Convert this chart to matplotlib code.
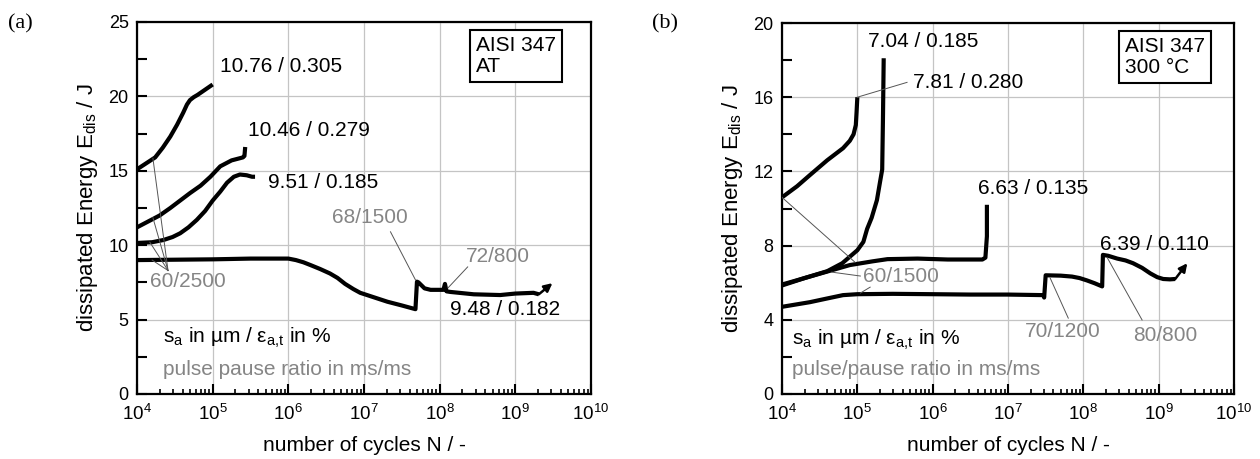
import numpy as np
import matplotlib
matplotlib.use("Agg")
import matplotlib.pyplot as plt
from matplotlib.ticker import LogLocator, MultipleLocator, LogFormatterMathtext, NullFormatter

plt.rcParams['font.family'] = ['Liberation Sans', 'DejaVu Sans']
plt.rcParams['mathtext.fontset'] = 'custom'
plt.rcParams['mathtext.rm'] = 'Liberation Sans'
plt.rcParams['mathtext.it'] = 'Liberation Sans:italic'
plt.rcParams['mathtext.bf'] = 'Liberation Sans:bold'

GRAY = '#858585'
LEAD = '#555555'

# ---------------- panel (a) data: AISI 347 AT ----------------
a1_logN = [4.0, 4.12, 4.24, 4.34, 4.44, 4.53, 4.61, 4.66, 4.70, 4.75, 4.80, 4.90, 5.0]
a1_E = [15.1, 15.5, 15.9, 16.55, 17.3, 18.1, 18.9, 19.45, 19.75, 19.95, 20.1, 20.45, 20.8]

a2_logN = [4.0, 4.15, 4.30, 4.44, 4.57, 4.70, 4.84, 4.97, 5.10, 5.25, 5.40, 5.42, 5.43]
a2_E = [11.2, 11.6, 12.0, 12.5, 13.0, 13.5, 14.0, 14.6, 15.3, 15.7, 15.9, 16.0, 16.6]

a3_logN = [4.0, 4.2, 4.35, 4.47, 4.57, 4.68, 4.79, 4.90, 5.0, 5.10, 5.19, 5.28, 5.36, 5.45, 5.52, 5.56]
a3_E = [10.15, 10.2, 10.35, 10.55, 10.8, 11.2, 11.7, 12.3, 13.0, 13.6, 14.2, 14.6, 14.75, 14.7, 14.6, 14.6]

a4_logN = [4.0, 5.0, 5.5, 6.0, 6.1, 6.2, 6.3, 6.42, 6.55, 6.65, 6.75, 6.86, 6.95, 7.1, 7.31, 7.5,
           7.68, 7.70, 7.72, 7.80, 7.88, 8.05, 8.07, 8.09, 8.14, 8.45, 8.8, 9.0, 9.24, 9.31]
a4_E = [9.0, 9.05, 9.1, 9.1, 9.0, 8.85, 8.65, 8.4, 8.1, 7.8, 7.4, 7.05, 6.8, 6.55, 6.2, 5.95,
        5.7, 7.55, 7.5, 7.1, 7.0, 7.0, 7.4, 6.9, 6.86, 6.7, 6.65, 6.75, 6.8, 6.7]
a4_arrow = [(9.31, 6.7), (9.49, 7.45)]

a_labels = ['10.76 / 0.305', '10.46 / 0.279', '9.51 / 0.185', '9.48 / 0.182']
a_label_pos = [(5.10, 22.0), (5.47, 17.7), (5.73, 14.2), (8.14, 5.65)]
a_ratio_labels = ['60/2500', '68/1500', '72/800']
a_ratio_pos = [(4.17, 7.53), (6.58, 11.84), (8.34, 9.21)]
a_leaders = [
    [(4.21, 15.85), (4.41, 8.3)],
    [(4.21, 11.85), (4.41, 8.3)],
    [(4.17, 10.2), (4.41, 8.3)],
    [(4.20, 9.0), (4.41, 8.3)],
    [(7.35, 10.9), (7.68, 7.67)],
    [(8.37, 8.54), (8.11, 7.13)],
]

# ---------------- panel (b) data: AISI 347 300 °C ----------------
b1_logN = [4.0, 4.2, 4.37, 4.6, 4.81, 4.90, 4.95, 4.98, 4.99, 5.0]
b1_E = [10.6, 11.2, 11.8, 12.6, 13.25, 13.65, 14.0, 14.5, 15.2, 16.0]

b2_logN = [4.0, 4.3, 4.6, 4.8, 4.9, 5.0, 5.08, 5.13, 5.19, 5.26, 5.30, 5.33, 5.34, 5.35]
b2_E = [5.85, 6.25, 6.62, 7.05, 7.4, 7.75, 8.2, 8.9, 9.5, 10.45, 11.4, 12.1, 14.8, 18.1]

b3_logN = [4.0, 4.3, 4.6, 4.9, 5.2, 5.4, 5.8, 6.2, 6.66, 6.70, 6.72, 6.72]
b3_E = [5.9, 6.25, 6.6, 6.95, 7.15, 7.27, 7.3, 7.25, 7.25, 7.35, 8.5, 10.2]

b4_logN = [4.0, 4.37, 4.6, 4.81, 5.0, 5.47, 6.0, 6.5, 7.0, 7.47, 7.48, 7.50, 7.7, 7.85, 7.95,
           8.05, 8.15, 8.25, 8.26, 8.33, 8.45, 8.56, 8.66, 8.78, 8.89, 8.98, 9.06, 9.15, 9.22]
b4_E = [4.7, 4.95, 5.15, 5.33, 5.38, 5.4, 5.38, 5.36, 5.36, 5.33, 5.2, 6.4, 6.38, 6.33, 6.25,
        6.12, 5.97, 5.8, 7.5, 7.45, 7.3, 7.2, 7.05, 6.8, 6.5, 6.3, 6.2, 6.18, 6.2]
b4_arrow = [(9.22, 6.2), (9.38, 7.05)]

b_labels = ['7.04 / 0.185', '7.81 / 0.280', '6.63 / 0.135', '6.39 / 0.110']
b_label_pos = [(5.14, 19.0), (5.74, 16.8), (6.60, 11.1), (8.22, 8.08)]
b_ratio_labels = ['60/1500', '70/1200', '80/800']
b_ratio_pos = [(5.08, 6.36), (7.23, 3.39), (8.66, 3.18)]
b_leaders = [
    [(5.66, 16.8), (5.0, 16.0)],
    [(4.0, 10.6), (4.97, 7.1)],
    [(4.66, 6.57), (5.04, 6.36)],
    [(5.04, 5.44), (5.17, 5.76)],
    [(7.56, 6.25), (7.80, 4.09)],
    [(8.32, 7.33), (8.78, 3.99)],
]

W, H = 1260, 459
fig = plt.figure(figsize=(W / 100, H / 100), dpi=100)
ax1 = fig.add_axes([137 / W, 65 / H, 454 / W, 372 / H])
ax2 = fig.add_axes([782 / W, 65 / H, 452 / W, 371 / H])


def style(ax, ymax, ystep, yminor):
    ax.set_xscale('log')
    ax.set_xlim(1e4, 1e10)
    ax.set_ylim(0, ymax)
    ax.xaxis.set_major_locator(LogLocator(base=10, numticks=20))
    ax.xaxis.set_minor_locator(LogLocator(base=10, subs=np.arange(2, 10), numticks=100))
    ax.xaxis.set_major_formatter(LogFormatterMathtext())
    ax.xaxis.set_minor_formatter(NullFormatter())
    ax.yaxis.set_major_locator(MultipleLocator(ystep))
    ax.yaxis.set_minor_locator(MultipleLocator(yminor))
    ax.grid(True, which='major', color='#c4c4c4', lw=0.9)
    ax.set_axisbelow(True)
    ax.tick_params(which='both', direction='in', top=False, right=False, labelsize=13)
    ax.tick_params(axis='x', which='major', labelsize=13.5)
    ax.tick_params(axis='y', which='both', length=7, width=1.5, pad=6)
    ax.tick_params(axis='x', which='major', length=7, width=1.5, pad=7)
    ax.tick_params(axis='x', which='minor', length=3.5, width=1.2)
    for s in ax.spines.values():
        s.set_linewidth(1.6)
    ax.set_xlabel('number of cycles N / -', fontsize=15, labelpad=9)
    ax.set_ylabel(r'dissipated Energy E$_\mathrm{dis}$ / J', fontsize=16, labelpad=6)


def curve(ax, logN, E):
    ax.plot(10 ** np.array(logN), E, color='k', lw=3, solid_capstyle='butt',
            solid_joinstyle='round', zorder=3)


def arrow(ax, pts):
    (x0, y0), (x1, y1) = pts
    ax.annotate('', xy=(10 ** x1, y1), xytext=(10 ** x0, y0),
                arrowprops=dict(arrowstyle='-|>', color='k', lw=1.8, mutation_scale=12,
                                shrinkA=0, shrinkB=0), zorder=4)


def leaders(ax, segs):
    for (x0, y0), (x1, y1) in segs:
        ax.plot([10 ** x0, 10 ** x1], [y0, y1], color=LEAD, lw=0.7, zorder=4)


sub = r's$_\mathrm{a}$ in µm / ε$_\mathrm{a{,}t}$ in %'
box = dict(boxstyle='square,pad=0.28', fc='white', ec='k', lw=1.5)

# ---- panel (a)
style(ax1, 25, 5, 2.5)
for lx, ly in [(a1_logN, a1_E), (a2_logN, a2_E), (a3_logN, a3_E), (a4_logN, a4_E)]:
    curve(ax1, lx, ly)
arrow(ax1, a4_arrow)
leaders(ax1, a_leaders)
for t, (x, y) in zip(a_labels, a_label_pos):
    ax1.text(10 ** x, y, t, fontsize=15, ha='left', va='center', color='k', zorder=5)
for t, (x, y) in zip(a_ratio_labels, a_ratio_pos):
    ax1.text(10 ** x, y, t, fontsize=15, ha='left', va='center', color=GRAY, zorder=5)
ax1.text(0.747, 0.962, 'AISI 347\nAT', transform=ax1.transAxes, fontsize=15,
         ha='left', va='top', linespacing=1.15, bbox=box)
ax1.text(0.057, 0.151, sub, transform=ax1.transAxes, fontsize=15, ha='left', va='center')
ax1.text(0.057, 0.067, 'pulse pause ratio in ms/ms', transform=ax1.transAxes,
         fontsize=15, ha='left', va='center', color=GRAY)

# ---- panel (b)
style(ax2, 20, 4, 2)
for lx, ly in [(b1_logN, b1_E), (b2_logN, b2_E), (b3_logN, b3_E), (b4_logN, b4_E)]:
    curve(ax2, lx, ly)
arrow(ax2, b4_arrow)
leaders(ax2, b_leaders)
for t, (x, y) in zip(b_labels, b_label_pos):
    ax2.text(10 ** x, y, t, fontsize=15, ha='left', va='center', color='k', zorder=5)
for t, (x, y) in zip(b_ratio_labels, b_ratio_pos):
    ax2.text(10 ** x, y, t, fontsize=15, ha='left', va='center', color=GRAY, zorder=5)
ax2.text(0.759, 0.962, 'AISI 347\n300 °C', transform=ax2.transAxes, fontsize=15,
         ha='left', va='top', linespacing=1.15, bbox=box)
ax2.text(0.022, 0.146, sub, transform=ax2.transAxes, fontsize=15, ha='left', va='center')
ax2.text(0.022, 0.065, 'pulse/pause ratio in ms/ms', transform=ax2.transAxes,
         fontsize=15, ha='left', va='center', color=GRAY)

fig.text(8 / W, 1 - 24 / H, '(a)', fontsize=16, family='Liberation Serif', ha='left', va='center')
fig.text(652 / W, 1 - 24 / H, '(b)', fontsize=16, family='Liberation Serif', ha='left', va='center')

fig.savefig('out.png', dpi=100)
